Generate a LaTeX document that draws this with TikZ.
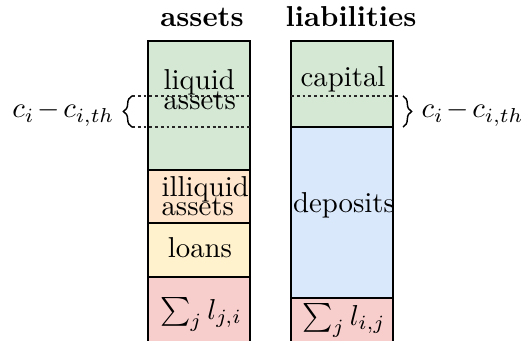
\documentclass[tikz,border=0pt]{standalone}
\usetikzlibrary{decorations.pathreplacing}
\definecolor{cgreen}{HTML}{D5E8D4}
\definecolor{corange}{HTML}{FFE6CC}
\definecolor{cyellow}{HTML}{FFF2CC}
\definecolor{cred}{HTML}{F8CECC}
\definecolor{cblue}{HTML}{DAE8FC}
\newcommand{\overlaplines}[1]{\fontsize{10}{#1}\selectfont\lineskiplimit-20pt\relax}
\begin{document}
\begin{tikzpicture}[x=0.3472pt,y=-0.3472pt,
  blockbox/.style={draw=black,line width=0.7pt},
  thresh/.style={draw=black!85,line width=0.4pt,dash pattern=on 1pt off 1pt},
  bracestyle/.style={draw=black,line width=0.5pt,decorate,decoration={brace,amplitude=3pt}},
  title/.style={font=\bfseries,inner sep=0pt},
  lbl/.style={inner sep=0pt},
  twoline/.style={inner sep=0pt,align=left,font={\overlaplines{7.2pt}}},
  twolinetight/.style={inner sep=0pt,align=left,font={\overlaplines{6.3pt}}}]
\useasboundingbox (0,0) rectangle (524,341);
% assets column
\path[blockbox,fill=cgreen]  (148,41)  rectangle (250,170);
\path[blockbox,fill=corange] (148,170) rectangle (250,223);
\path[blockbox,fill=cyellow] (148,223) rectangle (250,277);
\path[blockbox,fill=cred]    (148,277) rectangle (250,350);
% liabilities column
\path[blockbox,fill=cgreen]  (291,41)  rectangle (393,127);
\path[blockbox,fill=cblue]   (291,127) rectangle (393,298);
\path[blockbox,fill=cred]    (291,298) rectangle (393,350);
% thresholds
\coordinate (la) at (132,96);
\coordinate (lb) at (132,127);
\coordinate (ra) at (403,96);
\coordinate (rb) at (403,127);
\draw[thresh] (la) -- (250,96);
\draw[thresh] (lb) -- (250,127);
\draw[thresh] (291,96) -- (398,96);
\draw[bracestyle] (lb) -- (la);
\draw[bracestyle] (ra) -- (rb);
% titles
\node[title,anchor=base] (tassets) at (202,27) {assets};
\node[title,anchor=base] (tliab) at (351,27) {liabilities};
% labels
\node[twoline,anchor=base west] (liquid) at (163,110) {liquid\\assets};
\node[twolinetight,anchor=base west] (illiquid) at (161,215) {illiquid\\assets};
\node[lbl,anchor=base] (loans) at (200,257) {loans};
\node[lbl,anchor=base] (sumji) at (201,319) {$\sum_j l_{j,i}$};
\node[lbl,anchor=base] (capital) at (343,87) {capital};
\node[lbl,anchor=base] (deposits) at (344,213) {deposits};
\node[lbl,anchor=base] (sumij) at (344,325) {$\sum_j l_{i,j}$};
\node[lbl,anchor=base east] (cleft) at (115,118) {$\medmuskip=2mu c_i - c_{i,th}$};
\node[lbl,anchor=base west] (cright) at (421,118) {$\medmuskip=2mu c_i - c_{i,th}$};
\end{tikzpicture}
\end{document}
